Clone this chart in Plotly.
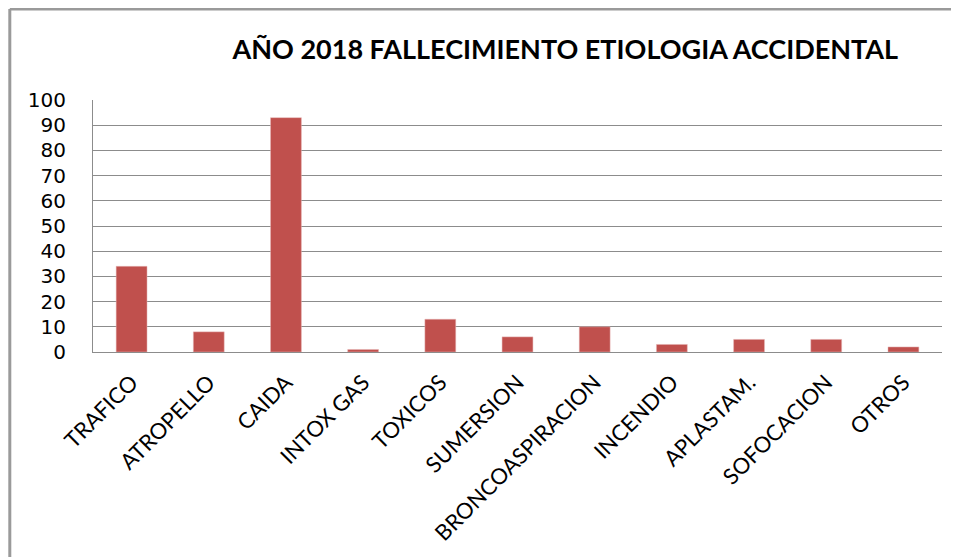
import plotly.graph_objects as go

categorias = ["TRAFICO", "ATROPELLO", "CAIDA", "INTOX GAS", "TOXICOS", "SUMERSION",
              "BRONCOASPIRACION", "INCENDIO", "APLASTAM.", "SOFOCACION", "OTROS"]
fallecidos = [34, 8, 93, 1, 13, 6, 10, 3, 5, 5, 2]
y_ticks = [0, 10, 20, 30, 40, 50, 60, 70, 80, 90, 100]

fig = go.Figure()
fig.add_trace(go.Bar(x=categorias, y=fallecidos, marker_color="#C0504D",
                     marker_line_color="#E6B9B8", marker_line_width=0.5))

# page body has an 8px margin, so the figure is 8px smaller than the window
fig.update_layout(
    width=951, height=549,
    margin={"l": 85, "r": 17, "t": 92, "b": 205},
    paper_bgcolor="white", plot_bgcolor="white",
    bargap=0.6,
    showlegend=False,
    title=dict(text="<b>AÑO 2018 FALLECIMIENTO ETIOLOGIA ACCIDENTAL</b>",
               x=0.586, xanchor="center", y=0.925, yanchor="middle",
               font=dict(family="Lato", size=27, color="black")),
    font=dict(family="DejaVu Sans", color="black"),
)

fig.update_yaxes(range=[0, 100], tickvals=y_ticks, showgrid=True, gridcolor="#8C8C8C",
                 gridwidth=1, showline=True, linecolor="#8C8C8C", linewidth=1,
                 ticks="", tickfont=dict(size=20, family="DejaVu Sans"),
                 ticklabelstandoff=22, zeroline=False)
fig.update_xaxes(showline=True, linecolor="#8C8C8C", linewidth=1, tickangle=-45,
                 ticks="", tickfont=dict(size=22, family="Lato"),
                 ticklabelstandoff=8)

# chart border (left and top visible)
fig.add_shape(type="line", xref="paper", yref="paper", x0=-0.098, x1=1.1,
              y0=1.361, y1=1.361, line=dict(color="#9A9A9A", width=3))
fig.add_shape(type="line", xref="paper", yref="paper", x0=-0.098, x1=-0.098,
              y0=-1.0, y1=1.361, line=dict(color="#9A9A9A", width=3))

fig.write_html("out.html")
